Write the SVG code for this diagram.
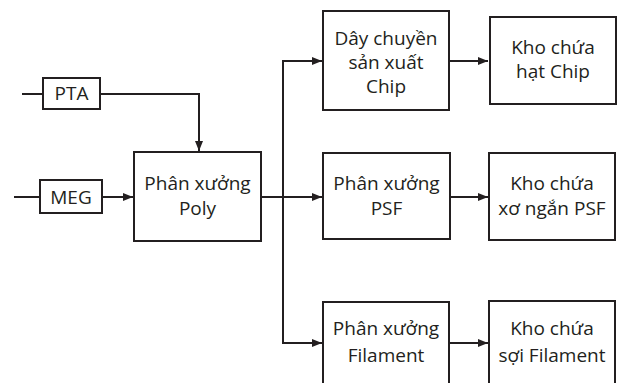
<svg xmlns="http://www.w3.org/2000/svg" width="617" height="383" viewBox="0 0 617 383">
<defs>
<style>
.box{fill:#fff;stroke:#231f20;stroke-width:2}
.ln{fill:none;stroke:#231f20;stroke-width:2}
.t{font-family:"Open Sans","Noto Sans",sans-serif;font-size:19px;fill:#231f20;text-anchor:middle}
</style>
<marker id="ah" viewBox="0 0 10 8" refX="10" refY="4" markerWidth="10" markerHeight="9" markerUnits="userSpaceOnUse" orient="auto">
<path d="M0,0 L10,4 L0,8 z" fill="#231f20"/>
</marker>
</defs>
<rect width="617" height="383" fill="#fff"/>
<g id="connectors">
<line class="ln" x1="22" y1="94" x2="43" y2="94"/>
<polyline class="ln" points="100,94 199,94 199,151" marker-end="url(#ah)"/>
<line class="ln" x1="14" y1="197" x2="40" y2="197"/>
<line class="ln" x1="102" y1="197" x2="133" y2="197" marker-end="url(#ah)"/>
<line class="ln" x1="261" y1="197" x2="322" y2="197" marker-end="url(#ah)"/>
<polyline class="ln" points="322,61 283,61 283,343 322,343" marker-end="url(#ah)"/>
<line class="ln" x1="283" y1="61" x2="322" y2="61" marker-end="url(#ah)"/>
<line class="ln" x1="449" y1="61" x2="488" y2="61" marker-end="url(#ah)"/>
<line class="ln" x1="450" y1="197" x2="488" y2="197" marker-end="url(#ah)"/>
<line class="ln" x1="449" y1="343" x2="488" y2="343" marker-end="url(#ah)"/>
</g>
<g id="pta">
<rect class="box" x="43" y="78" width="57" height="31"/>
<text class="t" x="71.5" y="100">PTA</text>
</g>
<g id="meg">
<rect class="box" x="40" y="180" width="62" height="33"/>
<text class="t" x="71" y="204">MEG</text>
</g>
<g id="poly">
<rect class="box" x="134" y="152" width="127" height="89"/>
<text class="t" x="197.5" y="190">Phân xưởng</text>
<text class="t" x="197.5" y="215">Poly</text>
</g>
<g id="chip">
<rect class="box" x="323" y="11" width="126" height="99"/>
<text class="t" x="386" y="45">Dây chuyền</text>
<text class="t" x="386" y="69">sản xuất</text>
<text class="t" x="386" y="93">Chip</text>
</g>
<g id="kho-chip">
<rect class="box" x="490" y="17" width="126" height="87"/>
<text class="t" x="553" y="54">Kho chứa</text>
<text class="t" x="553" y="78">hạt Chip</text>
</g>
<g id="psf">
<rect class="box" x="323" y="153" width="127" height="86"/>
<text class="t" x="386.5" y="190">Phân xưởng</text>
<text class="t" x="386.5" y="215">PSF</text>
</g>
<g id="kho-psf">
<rect class="box" x="489" y="153" width="126" height="87"/>
<text class="t" x="552" y="190">Kho chứa</text>
<text class="t" x="552" y="215">xơ ngắn PSF</text>
</g>
<g id="filament">
<rect class="box" x="323" y="302" width="126" height="90"/>
<text class="t" x="386" y="335">Phân xưởng</text>
<text class="t" x="386" y="362">Filament</text>
</g>
<g id="kho-filament">
<rect class="box" x="489" y="301" width="126" height="90"/>
<text class="t" x="552" y="335">Kho chứa</text>
<text class="t" x="552" y="362">sợi Filament</text>
</g>
</svg>
